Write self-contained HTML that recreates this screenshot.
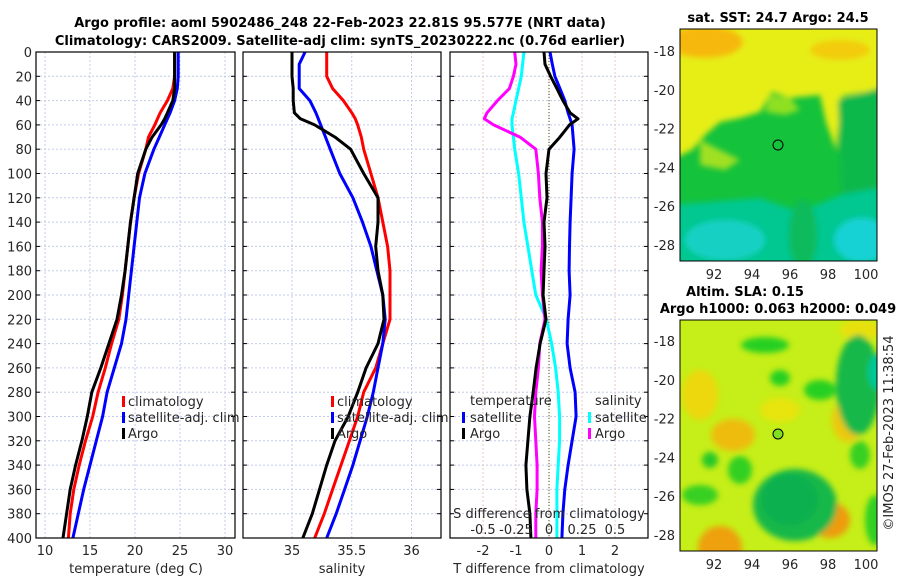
<!DOCTYPE html>
<html><head><meta charset="utf-8"><style>
body{margin:0;background:#fff;}
svg{display:block;font-family:"DejaVu Sans","Liberation Sans",sans-serif;}
.t{font-size:13px;fill:#262626;}
.b{font-size:13px;font-weight:bold;fill:#000;}
</style></head><body>
<svg id="fig" width="900" height="580" xmlns="http://www.w3.org/2000/svg">
<defs>
<filter id="bl" x="-20%" y="-20%" width="140%" height="140%"><feGaussianBlur stdDeviation="3"/></filter>
<clipPath id="c1"><rect x="680" y="29" width="197" height="232"/></clipPath>
<clipPath id="c2"><rect x="680" y="320" width="197" height="231"/></clipPath>
</defs>
<g>
<text class="b" x="340" y="27" text-anchor="middle">Argo profile: aoml 5902486_248 22-Feb-2023 22.81S 95.577E (NRT data)</text>
<text class="b" x="340" y="45" text-anchor="middle">Climatology: CARS2009. Satellite-adj clim: synTS_20230222.nc (0.76d earlier)</text>
</g>
<g id="grids"></g>
<g id="lines"></g>
<g id="axes"></g>

<g class="t">
<rect x="122" y="396" width="3" height="11" fill="#f00"/><text x="128" y="406">climatology</text>
<rect x="122" y="412" width="3" height="11" fill="#00f"/><text x="128" y="422">satellite-adj. clim</text>
<rect x="122" y="428" width="3" height="11" fill="#000"/><text x="128" y="438">Argo</text>
</g>
<g class="t">
<rect x="331" y="396" width="3" height="11" fill="#f00"/><text x="337" y="406">climatology</text>
<rect x="331" y="412" width="3" height="11" fill="#00f"/><text x="337" y="422">satellite-adj. clim</text>
<rect x="331" y="428" width="3" height="11" fill="#000"/><text x="337" y="438">Argo</text>
</g>
<g class="t">
<text x="470" y="405">temperature</text>
<rect x="462" y="412" width="3" height="11" fill="#00f"/><text x="470" y="422">satellite</text>
<rect x="462" y="428" width="3" height="11" fill="#000"/><text x="470" y="438">Argo</text>
<text x="595" y="405">salinity</text>
<rect x="588" y="412" width="3" height="11" fill="#0ff"/><text x="595" y="422">satellite</text>
<rect x="588" y="428" width="3" height="11" fill="#f0f"/><text x="595" y="438">Argo</text>
</g>
<g class="t">
<text x="549" y="518" text-anchor="middle">S difference from climatology</text>
<text x="483" y="534" text-anchor="middle">-0.5</text><text x="516" y="534" text-anchor="middle">-0.25</text>
<text x="549" y="534" text-anchor="middle">0</text><text x="582" y="534" text-anchor="middle">0.25</text><text x="615" y="534" text-anchor="middle">0.5</text>
</g>
<text class="t" x="136" y="573" text-anchor="middle">temperature (deg C)</text>
<text class="t" x="342" y="573" text-anchor="middle">salinity</text>
<text class="t" x="549" y="573" text-anchor="middle">T difference from climatology</text>

<text class="b" x="778" y="22" text-anchor="middle">sat. SST: 24.7 Argo: 24.5</text>
<g clip-path="url(#c1)">
<rect x="680" y="29" width="197" height="232" fill="#14c23c"/>
<g filter="url(#bl)">
<polygon points="670,20 890,20 890,88 842,96 836,150 826,122 820,95 790,98 772,92 760,112 740,118 720,122 705,135 692,150 670,160" fill="#e6ee14"/>
<ellipse cx="705" cy="42" rx="38" ry="16" fill="#f6b808"/>
<ellipse cx="840" cy="50" rx="30" ry="10" fill="#f2cc10"/>
<polygon points="770,95 790,98 800,110 785,115 765,112" fill="#90e020"/>
<polygon points="700,140 720,150 740,160 725,170 700,165" fill="#a0e020"/>
<polygon points="838,100 880,88 880,205 860,212 842,200" fill="#0eb84c"/>
<polygon points="670,205 760,198 800,212 840,195 880,188 880,270 670,270" fill="#06c890"/>
<ellipse cx="725" cy="240" rx="40" ry="20" fill="#14d0c4"/>
<ellipse cx="862" cy="240" rx="28" ry="22" fill="#14d2d4"/>
<ellipse cx="803" cy="235" rx="14" ry="35" fill="#0aba5c"/>
</g>
<circle cx="778" cy="145" r="5" fill="none" stroke="#000" stroke-width="1"/>
</g>
<rect x="680" y="29" width="197" height="232" fill="none" stroke="#000"/>

<text class="b" x="745" y="296" text-anchor="middle">Altim. SLA: 0.15</text>
<text class="b" x="778" y="313" text-anchor="middle">Argo h1000: 0.063 h2000: 0.049</text>
<g clip-path="url(#c2)">
<rect x="680" y="320" width="197" height="231" fill="#c6ee18"/>
<g filter="url(#bl)">
<ellipse cx="700" cy="395" rx="18" ry="25" fill="#ecd810"/>
<ellipse cx="733" cy="435" rx="22" ry="16" fill="#eebc0c"/>
<ellipse cx="780" cy="410" rx="20" ry="12" fill="#e8e410"/>
<ellipse cx="848" cy="420" rx="16" ry="22" fill="#eec810"/>
<ellipse cx="720" cy="548" rx="22" ry="22" fill="#eea008"/>
<ellipse cx="830" cy="520" rx="20" ry="18" fill="#ee9c08"/>
<ellipse cx="860" cy="330" rx="20" ry="10" fill="#e8e010"/>
<ellipse cx="795" cy="505" rx="42" ry="36" fill="#12b84a"/>
<ellipse cx="790" cy="500" rx="28" ry="25" fill="#08b050"/>
<ellipse cx="765" cy="345" rx="24" ry="8" fill="#28d020"/>
<ellipse cx="780" cy="378" rx="10" ry="8" fill="#28d020"/>
<ellipse cx="820" cy="390" rx="16" ry="10" fill="#28d020"/>
<ellipse cx="858" cy="385" rx="22" ry="50" fill="#12b84a"/>
<ellipse cx="878" cy="372" rx="10" ry="18" fill="#06c898"/>
<ellipse cx="710" cy="460" rx="8" ry="8" fill="#28c828"/>
<ellipse cx="740" cy="470" rx="12" ry="14" fill="#30d020"/>
<ellipse cx="700" cy="495" rx="18" ry="10" fill="#38d020"/>
<ellipse cx="860" cy="455" rx="10" ry="14" fill="#38d020"/>
<ellipse cx="875" cy="520" rx="10" ry="25" fill="#30d020"/>
</g>
<circle cx="778" cy="434" r="5" fill="#80e020" stroke="#000" stroke-width="1"/>
</g>
<rect x="680" y="320" width="197" height="231" fill="none" stroke="#000"/>
<text class="t" transform="translate(893,433) rotate(-90)" text-anchor="middle">©IMOS 27-Feb-2023 11:38:54</text>

<script>
var depths=[0,10,20,30,40,50,55,60,70,80,100,120,140,160,180,200,220,240,260,280,300,320,340,360,380,400];
var tClim=[24.4,24.4,24.4,24.2,23.6,22.8,22.5,22.2,21.5,21.2,20.4,19.9,19.5,19.2,18.9,18.6,18.2,17.4,16.7,15.9,15.3,14.5,13.8,13.2,12.8,12.6];
var tArgo=[24.4,24.4,24.4,24.4,24.2,23.6,23.3,22.9,21.9,21.2,20.3,19.9,19.5,19.2,18.9,18.5,18.0,17.1,16.2,15.2,14.7,14.1,13.4,12.8,12.4,12.0];
var tSat=[24.8,24.8,24.8,24.7,24.4,23.9,23.6,23.3,22.7,22.1,21.1,20.5,20.2,19.9,19.6,19.3,19.0,18.5,17.7,16.9,16.4,15.7,15.0,14.3,13.7,13.1];
var sClim=[35.29,35.29,35.29,35.34,35.43,35.5,35.53,35.55,35.58,35.6,35.66,35.72,35.76,35.8,35.82,35.82,35.82,35.76,35.7,35.6,35.55,35.48,35.41,35.34,35.27,35.19];
var sSat=[35.11,35.06,35.06,35.06,35.15,35.2,35.22,35.24,35.28,35.32,35.4,35.51,35.59,35.66,35.71,35.76,35.78,35.76,35.72,35.68,35.63,35.57,35.51,35.44,35.37,35.29];
var sArgo=[35.0,35.0,35.0,35.01,35.01,35.02,35.07,35.19,35.36,35.49,35.6,35.72,35.72,35.7,35.72,35.76,35.77,35.72,35.62,35.55,35.47,35.36,35.29,35.23,35.17,35.09];
var dTArgo=[-0.15,-0.12,0.05,0.24,0.42,0.64,0.88,0.62,0.33,0,-0.09,-0.06,-0.15,-0.12,-0.15,-0.18,-0.09,-0.27,-0.39,-0.48,-0.58,-0.64,-0.7,-0.67,-0.58,-0.55];
var dTSat=[0.03,0.1,0.18,0.33,0.48,0.58,0.64,0.7,0.73,0.76,0.7,0.67,0.64,0.62,0.61,0.64,0.58,0.55,0.64,0.79,0.82,0.7,0.58,0.48,0.42,0.39];
var dSArgo=[-0.26,-0.25,-0.27,-0.3,-0.39,-0.47,-0.49,-0.42,-0.22,-0.1,-0.08,-0.07,-0.05,-0.05,-0.06,-0.05,-0.03,-0.07,-0.08,-0.1,-0.11,-0.1,-0.09,-0.09,-0.1,-0.1];
var dSSat=[-0.19,-0.2,-0.21,-0.23,-0.25,-0.27,-0.28,-0.28,-0.27,-0.26,-0.23,-0.21,-0.19,-0.16,-0.13,-0.1,-0.02,0.02,0.05,0.07,0.08,0.08,0.07,0.06,0.06,0.06];
var depthTicks=[0,20,40,60,80,100,120,140,160,180,200,220,240,260,280,300,320,340,360,380,400];
var tTicks=[10,15,20,25,30];
var sTicks=[35,35.5,36];
var dTTicks=[-2,-1,0,1,2];
var lonTicks=[92,94,96,98,100];
var latTicks=[-18,-20,-22,-24,-26,-28];

var NS="http://www.w3.org/2000/svg";
function yD(d){return 52+d*1.215;}
function xT(t){return 45+(t-10)*9;}
function xS(s){return 292+(s-35)*119.5;}
function xDT(v){return 549+v*33;}
function xDS(v){return 549+v*132;}
function lonX(l){return 714+(l-92)*19;}
function latY1(l){return 51+(-18-l)*19.4;}
function latY2(l){return 341+(-18-l)*19.4;}
function mk(tag,at,par){var e=document.createElementNS(NS,tag);for(var k in at)e.setAttribute(k,at[k]);document.getElementById(par).appendChild(e);return e;}
var panels=[{x0:36,x1:235,f:xT,ticks:tTicks,name:'temperature'},{x0:243,x1:441,f:xS,ticks:sTicks,name:'salinity'},{x0:450,x1:648,f:xDT,ticks:dTTicks,name:'tdiff'}];
panels.forEach(function(p,pi){
  depthTicks.forEach(function(d){
    var g=mk('line',{x1:p.x0,x2:p.x1,y1:yD(d),y2:yD(d),stroke:'#c4cbec','stroke-width':1,'stroke-dasharray':'2,2'},'grids');
    
    
    var tk=mk('line',{x1:p.x0,x2:p.x0+4,y1:yD(d),y2:yD(d),stroke:'#000'},'axes');
    
    
    var tk2=mk('line',{x1:p.x1-4,x2:p.x1,y1:yD(d),y2:yD(d),stroke:'#000'},'axes');
    
    
    if(pi==0){var tl=mk('text',{x:p.x0-4,y:yD(d)+5,'text-anchor':'end','class':'t'},'axes');tl.textContent=d;
    
    }
  });
  p.ticks.forEach(function(t){
    var x=p.f(t);
    var g=mk('line',{x1:x,x2:x,y1:52,y2:538,stroke:pi==2?'#e8c8c0':'#c4cbec','stroke-width':1,'stroke-dasharray':'2,2'},'grids');
    
    
    var tl=mk('text',{x:x,y:555,'text-anchor':'middle','class':'t'},'axes');tl.textContent=t;
    
    
  });
  var fr=mk('rect',{x:p.x0,y:52,width:p.x1-p.x0,height:486,fill:'none',stroke:'#000','stroke-width':1.2},'axes');
  
  
});
var zl=mk('line',{x1:xDT(0),x2:xDT(0),y1:52,y2:538,stroke:'#445522','stroke-dasharray':'1,2'},'grids');


function series(vals,fx,col,name){
  var d='';vals.forEach(function(v,i){d+=(i?'L':'M')+fx(v).toFixed(1)+','+yD(depths[i]).toFixed(1);});
  var e=mk('path',{d:d,fill:'none',stroke:col,'stroke-width':3,'stroke-linejoin':'round'},'lines');
  
  
}
series(tClim,xT,'#f00','temp-climatology-line');
series(tSat,xT,'#00f','temp-satellite-line');
series(tArgo,xT,'#000','temp-argo-line');
series(sClim,xS,'#f00','sal-climatology-line');
series(sSat,xS,'#00f','sal-satellite-line');
series(sArgo,xS,'#000','sal-argo-line');
series(dSSat,xDS,'#0ff','sdiff-satellite-line');
series(dSArgo,xDS,'#f0f','sdiff-argo-line');
series(dTSat,xDT,'#00f','tdiff-satellite-line');
series(dTArgo,xDT,'#000','tdiff-argo-line');
[[latY1,261],[latY2,551]].forEach(function(m,mi){
  latTicks.forEach(function(l){
    var y=m[0](l);
    var tl=mk('text',{x:675,y:y+5,'text-anchor':'end','class':'t'},'axes');tl.textContent=l;
    
    
    var a=mk('line',{x1:680,x2:684,y1:y,y2:y,stroke:'#000'},'axes');
    
    
    var b=mk('line',{x1:873,x2:877,y1:y,y2:y,stroke:'#000'},'axes');
    
    
  });
  lonTicks.forEach(function(l){
    var x=lonX(l);
    var tl=mk('text',{x:x,y:m[1]+18,'text-anchor':'middle','class':'t'},'axes');tl.textContent=l;
    
    
  });
});
</script>
</svg>
</body></html>
